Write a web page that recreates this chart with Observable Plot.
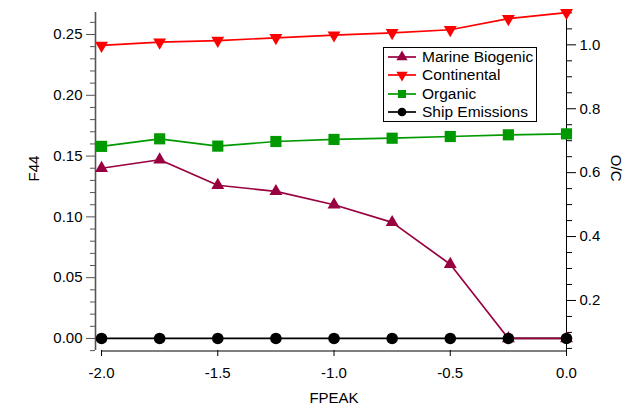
<!DOCTYPE html>
<html>
<head>
<meta charset="utf-8">
<script src="https://cdn.jsdelivr.net/npm/d3@7"></script>
<script src="https://cdn.jsdelivr.net/npm/@observablehq/plot@0.6"></script>
<style>
  html, body { margin: 0; padding: 0; background: #fff; }
  #wrap { position: relative; width: 624px; height: 409px; font-family: 'Liberation Sans', Arial, sans-serif; }
  #legend { position: absolute; left: 383px; top: 47px; width: 154px; height: 75px; border: 1px solid #000; background: #fff; box-sizing: border-box; font-size: 15.5px; color: #000; }
  .row { position: absolute; left: 0; height: 18px; display: flex; align-items: center; white-space: nowrap; }
  .row svg { display: block; margin-left: 3px; margin-right: 5px; }
</style>
</head>
<body>
<div id="wrap"><div id="chart"></div><div id="legend"></div></div>
<script>
// ---- data ----
const fpeak = [-2.0, -1.75, -1.5, -1.25, -1.0, -0.75, -0.5, -0.25, 0.0];
const marineBiogenic = [0.140, 0.147, 0.126, 0.121, 0.110, 0.0955, 0.061, 0.0, 0.0];
const continental = [0.241, 0.2437, 0.245, 0.2473, 0.2495, 0.2514, 0.2539, 0.263, 0.268];
const organic = [0.158, 0.1642, 0.1582, 0.162, 0.1637, 0.1647, 0.1661, 0.1675, 0.1683];
const shipEmissions = [0, 0, 0, 0, 0, 0, 0, 0, 0];

const seriesNames = ["Marine Biogenic", "Continental", "Organic", "Ship Emissions"];
const seriesColors = ["#990040", "#ff0000", "#009a00", "#000000"];

const f44MajorTicks = [0.00, 0.05, 0.10, 0.15, 0.20, 0.25];
const f44MinorTicks = [-0.01, 0.01, 0.02, 0.03, 0.04, 0.06, 0.07, 0.08, 0.09, 0.11, 0.12, 0.13, 0.14, 0.16, 0.17, 0.18, 0.19, 0.21, 0.22, 0.23, 0.24, 0.26];
const ocMajorTicks = [0.2, 0.4, 0.6, 0.8, 1.0];
const ocMinorTicks = [0.05, 0.10, 0.15, 0.25, 0.30, 0.35, 0.45, 0.50, 0.55, 0.65, 0.70, 0.75, 0.85, 0.90, 0.95, 1.05, 1.10];
const xTicks = [-2.0, -1.5, -1.0, -0.5, 0.0];

// right axis (O/C) relation to left axis (F44)
const ocToF44 = oc => 0.03125 + (oc - 0.2) * 0.26281;
const f44ToOc = f => (f - 0.03125) / 0.26281 + 0.2;

const xDomain = [-2.026, 0];
const yDomain = [-0.0099, 0.2681];

const rows = fpeak.map((x, i) => ({
  x,
  marine: marineBiogenic[i],
  continental: continental[i],
  organic: organic[i],
  ship: shipEmissions[i]
}));

const triangleDown = {
  draw(context, size) {
    const y = -Math.sqrt(size / (Math.sqrt(3) * 3));
    context.moveTo(0, -y * 2);
    context.lineTo(-Math.sqrt(3) * y, y);
    context.lineTo(Math.sqrt(3) * y, y);
    context.closePath();
  }
};

const FONT = "'Liberation Sans', Arial, sans-serif";
const lw = 1.7;

const chart = Plot.plot({
  width: 624,
  height: 409,
  marginLeft: 95,
  marginRight: 58,
  marginTop: 12,
  marginBottom: 59,
  style: { fontFamily: FONT, fontSize: "15px", background: "#fff", color: "#000" },
  x: { domain: xDomain, axis: null },
  y: { domain: yDomain, axis: null },
  marks: [
    // axis lines
    Plot.ruleX([xDomain[0]], { stroke: "#555", strokeWidth: 1.6 }),
    Plot.ruleX([0], { stroke: "#000", strokeWidth: 1 }),
    Plot.ruleY([{ y: yDomain[0], x1: -2.0, x2: 0.0 }], { y: "y", x1: "x1", x2: "x2", stroke: "#000", strokeWidth: 1, dy: 0.5 }),
    // left axis
    Plot.axisY(f44MajorTicks, { anchor: "left", tickSize: 9, tickPadding: 4, tickFormat: d => d.toFixed(2), stroke: "#555", fill: "#000", fontSize: 15, label: null }),
    Plot.axisY(f44MinorTicks, { anchor: "left", tickSize: 5, tickFormat: () => "", stroke: "#555", label: null }),
    // right axis
    Plot.axisY(ocMajorTicks.map(ocToF44), { anchor: "right", tickSize: 9, tickPadding: 4, tickFormat: d => f44ToOc(d).toFixed(1), stroke: "#000", fill: "#000", fontSize: 15, label: null }),
    Plot.axisY(ocMinorTicks.map(ocToF44), { anchor: "right", tickSize: 5, tickFormat: () => "", stroke: "#000", label: null }),
    // bottom axis
    Plot.axisX(xTicks, { anchor: "bottom", tickSize: 6, tickPadding: 11, tickFormat: d => d.toFixed(1), stroke: "#000", fill: "#000", fontSize: 15, label: null }),
    // axis titles
    Plot.text(["F44"], { frameAnchor: "left", rotate: -90, dx: -61, fontSize: 15, fill: "#000" }),
    Plot.text(["O/C"], { frameAnchor: "right", rotate: 90, dx: 49, fontSize: 15, fill: "#000" }),
    Plot.text(["FPEAK"], { frameAnchor: "bottom", dy: 52, dx: 3, fontSize: 15, fill: "#000" }),
    // series
    Plot.line(rows, { x: "x", y: "continental", stroke: seriesColors[1], strokeWidth: lw }),
    Plot.dot(rows, { x: "x", y: "continental", symbol: triangleDown, r: 4.8, fill: seriesColors[1], stroke: "none" }),
    Plot.line(rows, { x: "x", y: "organic", stroke: seriesColors[2], strokeWidth: lw }),
    Plot.dot(rows, { x: "x", y: "organic", symbol: "square", r: 6.3, fill: seriesColors[2], stroke: "none" }),
    Plot.line(rows, { x: "x", y: "ship", stroke: seriesColors[3], strokeWidth: lw }),
    Plot.line(rows, { x: "x", y: "marine", stroke: seriesColors[0], strokeWidth: lw }),
    Plot.dot(rows, { x: "x", y: "marine", symbol: "triangle", r: 4.8, fill: seriesColors[0], stroke: "none" }),
    Plot.dot(rows, { x: "x", y: "ship", symbol: "circle", r: 5.8, fill: seriesColors[3], stroke: "none" })
  ]
});
document.getElementById("chart").appendChild(chart);

// legend
const legendSymbols = [d3.symbolTriangle, triangleDown, d3.symbolSquare, d3.symbolCircle];
const legendSizes = [55, 55, 64, 60];
const legend = document.getElementById("legend");
seriesNames.forEach((name, i) => {
  const row = document.createElement("div");
  row.className = "row";
  row.style.top = (i * 18.4) + "px";
  const path = d3.symbol(legendSymbols[i], legendSizes[i])();
  row.innerHTML =
    `<svg width="30" height="18" viewBox="0 0 30 18">` +
    `<line x1="1" x2="29" y1="9" y2="9" stroke="${seriesColors[i]}" stroke-width="1.7"/>` +
    `<path d="${path}" transform="translate(15,9)" fill="${seriesColors[i]}"/></svg>` +
    `<span>${name}</span>`;
  legend.appendChild(row);
});
</script>
</body>
</html>
